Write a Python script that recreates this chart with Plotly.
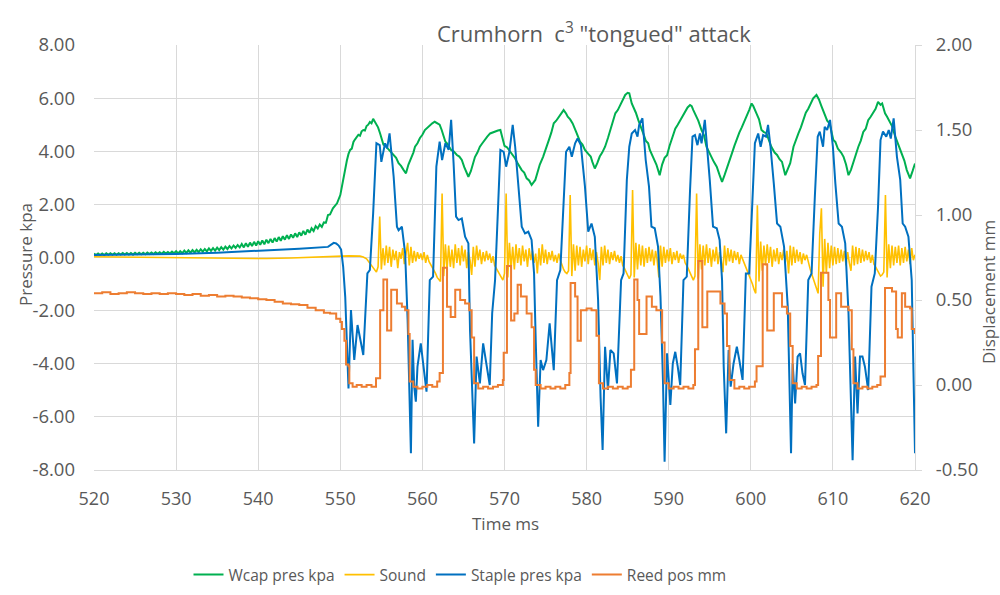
import numpy as np
import plotly.graph_objects as go

# ---------------- data ----------------
# Wcap pressure (kPa): 0.25 ms samples 520.00 .. 547.75
wcap_pre_v = [
    0.15, 0.09, 0.15, 0.09,  0.15, 0.09, 0.16, 0.10,  0.16, 0.10, 0.16, 0.10,
    0.16, 0.11, 0.17, 0.11,  0.17, 0.11, 0.17, 0.11,  0.18, 0.12, 0.18, 0.12,
    0.18, 0.12, 0.19, 0.13,  0.19, 0.13, 0.20, 0.14,  0.20, 0.14, 0.21, 0.15,
    0.21, 0.15, 0.22, 0.16,  0.24, 0.15, 0.24, 0.16,  0.26, 0.17, 0.27, 0.18,
    0.28, 0.19, 0.29, 0.20,  0.31, 0.22, 0.32, 0.23,  0.34, 0.25, 0.35, 0.26,
    0.37, 0.28, 0.39, 0.30,  0.41, 0.32, 0.43, 0.34,  0.45, 0.36, 0.47, 0.38,
    0.51, 0.38, 0.54, 0.40,  0.56, 0.43, 0.59, 0.45,  0.61, 0.48, 0.64, 0.50,
    0.67, 0.54, 0.70, 0.56,  0.73, 0.60, 0.77, 0.63,  0.80, 0.67, 0.84, 0.70,
    0.87, 0.74, 0.91, 0.77,  0.95, 0.82, 1.00, 0.86,  1.05, 0.93, 1.10, 1.00,
    1.18, 1.09, 1.24, 1.15,
]
wcap_t = [
    548.0, 548.25, 548.5, 548.75, 549.1, 549.4, 549.6, 550.0, 550.2, 550.4,
    550.6, 550.8, 551.0, 551.2, 551.4, 551.6, 551.8, 552.0, 552.2, 552.4,
    552.6, 552.8, 553.0, 553.2, 553.4, 553.6, 553.8, 554.0, 554.2, 554.4,
    554.6, 554.85, 555.05, 555.25, 555.5, 555.8, 556.1, 556.3, 556.5, 556.8,
    557.1, 557.4, 557.7, 558.0, 558.3, 558.6, 558.9, 559.1, 559.4, 559.7,
    560.0, 560.3, 560.6, 560.9, 561.2, 561.5, 561.9, 562.1, 562.35, 562.6,
    562.8, 563.0, 563.2, 563.5, 563.8, 564.2, 564.5, 564.8, 565.1, 565.4,
    565.6, 565.9, 566.1, 566.4, 566.7, 567.0, 567.3, 567.6, 567.9, 568.25,
    568.6, 568.85, 569.2, 569.5, 569.8, 570.0, 570.3, 570.7, 571.0, 571.3,
    571.6, 572.1, 572.4, 572.7, 573.0, 573.3, 573.75, 574.0, 574.3, 574.7,
    575.0, 575.4, 575.7, 576.0, 576.3, 576.6, 576.9, 577.2, 577.5, 577.7,
    578.0, 578.3, 578.8, 579.2, 579.5, 579.8, 580.2, 580.5, 580.7, 581.0,
    581.3, 581.6, 581.9, 582.25, 582.6, 582.9, 583.2, 583.5, 583.8, 584.1,
    584.4, 584.7, 585.0, 585.2, 585.5, 585.8, 586.0, 586.3, 586.6, 586.9,
    587.2, 587.5, 587.7, 588.1, 588.5, 588.9, 589.2, 589.5, 589.8, 590.1,
    590.4, 590.8, 591.1, 591.4, 591.7, 592.0, 592.3, 592.6, 592.8, 593.0,
    593.3, 593.6, 594.0, 594.3, 594.6, 594.9, 595.2, 595.5, 595.85, 596.2,
    596.5, 596.8, 597.1, 597.4, 597.7, 598.0, 598.3, 598.6, 598.9, 599.2,
    599.5, 599.8, 600.1, 600.3, 600.7, 601.0, 601.3, 601.6, 601.9, 602.2,
    602.5, 602.9, 603.2, 603.5, 603.8, 604.2, 604.5, 604.8, 605.2, 605.5,
    605.8, 606.1, 606.4, 606.7, 607.0, 607.3, 607.6, 608.0, 608.3, 608.6,
    609.0, 609.3, 609.6, 610.05, 610.3, 610.6, 611.0, 611.3, 611.6, 611.9,
    612.2, 612.5, 612.8, 613.1, 613.4, 613.7, 614.0, 614.3, 614.6, 614.9,
    615.2, 615.5, 615.8, 616.0, 616.35, 616.6, 616.9, 617.2, 617.6, 617.9,
    618.1, 618.4, 618.7, 619.0, 619.2, 619.4, 619.7, 620.0,
]
wcap_v = [
    1.32, 1.31, 1.60, 1.62, 1.85, 1.95, 2.04, 2.35, 2.70, 3.00,
    3.30, 3.65, 3.90, 4.05, 4.10, 4.35, 4.45, 4.55, 4.62, 4.58,
    4.75, 4.80, 4.78, 4.95, 5.00, 5.10, 5.05, 5.22, 5.10, 4.98,
    4.90, 4.67, 4.50, 4.25, 4.20, 4.10, 4.02, 3.95, 3.86, 3.75,
    3.55, 3.45, 3.30, 3.17, 3.50, 3.70, 3.95, 4.17, 4.30, 4.50,
    4.62, 4.80, 4.88, 4.99, 5.05, 5.11, 5.05, 5.00, 4.80, 4.55,
    4.36, 4.30, 4.18, 4.05, 4.00, 3.86, 3.80, 3.67, 3.40, 3.20,
    3.04, 3.25, 3.45, 3.78, 3.95, 4.17, 4.30, 4.45, 4.55, 4.67,
    4.72, 4.75, 4.78, 4.80, 4.38, 4.20, 4.15, 3.98, 3.90, 3.73,
    3.55, 3.29, 3.20, 2.98, 2.90, 2.73, 2.92, 3.20, 3.50, 3.79,
    4.10, 4.42, 4.70, 5.05, 5.15, 5.30, 5.42, 5.55, 5.42, 5.30,
    5.20, 5.05, 4.67, 4.36, 4.25, 4.05, 3.90, 3.80, 3.60, 3.35,
    3.55, 3.80, 3.95, 4.17, 4.50, 4.80, 5.10, 5.43, 5.55, 5.74,
    5.90, 6.12, 6.20, 6.18, 5.80, 5.60, 5.45, 5.17, 4.95, 4.67,
    4.40, 4.30, 4.05, 3.80, 3.50, 3.10, 3.50, 3.75, 3.85, 4.20,
    4.45, 4.85, 5.00, 5.17, 5.30, 5.50, 5.65, 5.74, 5.70, 5.55,
    5.35, 5.15, 4.80, 4.60, 4.17, 4.00, 3.79, 3.60, 3.42, 3.10,
    2.85, 3.10, 3.35, 3.60, 3.92, 4.20, 4.48, 4.70, 4.90, 5.10,
    5.30, 5.55, 5.80, 5.70, 5.42, 5.20, 4.80, 4.72, 4.68, 4.40,
    4.17, 3.95, 3.86, 3.70, 3.60, 3.10, 3.35, 3.55, 4.17, 4.45,
    4.67, 4.90, 5.17, 5.45, 5.60, 5.80, 5.99, 6.12, 5.95, 5.70,
    5.42, 5.15, 5.05, 4.42, 4.35, 4.10, 3.95, 3.79, 3.50, 3.10,
    3.30, 3.60, 3.90, 4.17, 4.40, 4.73, 4.85, 5.17, 5.30, 5.43,
    5.60, 5.86, 5.75, 5.80, 5.43, 5.30, 5.10, 4.95, 4.55, 4.30,
    4.10, 3.92, 3.65, 3.29, 3.15, 2.98, 3.25, 3.54,
]

# Sound (left axis)
sound_pre_t = [520, 523, 526, 529, 532, 535, 538, 541, 544, 547, 549, 551,
               552.4, 552.8, 553.2, 553.6]
sound_pre_v = [0.03, 0.02, 0.00, -0.02, -0.03, -0.04, -0.05, -0.04, -0.02,
               0.02, 0.05, 0.06, 0.05, 0.02, -0.05, -0.22]
# 0.2 ms samples from 554.0 to 620.0
sound_v = [
    -0.40, -0.50, -0.55, -0.35, 1.54, -0.45, 0.35, -0.30, 0.45, -0.20,
    0.40, -0.35, 0.30, -0.10, 0.25, -0.40, 0.20, -0.05, 0.35, -0.25,
    0.15, 0.55, -0.30, 0.40, -0.20, 0.25, -0.15, 0.20, -0.05, 0.15,
    -0.10, 0.20, -0.20, 0.10, -0.15, -0.25, -0.35, -0.45, -0.60, -0.75,
    -0.85, -0.90, 2.41, -0.70, 0.50, -0.45, 0.45, -0.35, 0.30, -0.40,
    0.50, -0.20, 0.35, -0.30, 0.45, -0.15, 0.30, -0.40, 0.20, -0.10,
    -0.66, 0.40, -0.35, 0.45, -0.10, 0.30, -0.25, 0.20, -0.15, 0.25,
    -0.10, 0.15, -0.20, 0.05, -0.30, -0.40, -0.50, -0.60, -0.75, -0.85,
    -0.60, 2.41, -0.75, 0.55, -0.40, 0.40, -0.45, 0.50, -0.20, 0.35,
    -0.30, 0.45, -0.15, 0.30, -0.35, 0.35, -0.10, 0.25, -0.20, 0.15,
    -0.60, 0.35, -0.30, 0.50, -0.20, 0.30, -0.25, 0.20, -0.10, 0.25,
    -0.15, 0.10, -0.20, 0.15, -0.10, -0.30, -0.45, -0.55, -0.60, -0.50,
    2.35, -0.70, 0.50, -0.50, 0.45, -0.30, 0.40, -0.35, 0.30, -0.15,
    0.45, -0.25, 0.35, -0.10, 0.30, -0.30, 0.20, -0.20, -0.85, 0.40,
    -0.30, 0.45, -0.20, 0.30, -0.25, 0.20, -0.10, 0.25, -0.15, 0.10,
    -0.20, 0.05, -0.30, -0.40, -0.55, -0.70, -0.80, -0.65, 2.54, -0.75,
    0.55, -0.45, 0.50, -0.30, 0.45, -0.35, 0.35, -0.20, 0.40, -0.15,
    0.30, -0.30, 0.25, -0.10, -0.75, 0.45, -0.35, 0.40, -0.20, 0.30,
    -0.15, 0.35, -0.25, 0.20, -0.10, 0.25, -0.20, 0.15, -0.05, 0.10,
    -0.20, -0.30, -0.45, -0.60, -0.75, -0.85, -0.70, 2.41, -0.80, 0.50,
    -0.45, 0.45, -0.30, 0.50, -0.20, 0.35, -0.35, 0.30, -0.15, 0.40,
    -0.25, 0.20, -0.10, -0.55, 0.45, -0.30, 0.35, -0.15, 0.30, -0.20,
    0.25, -0.10, 0.20, -0.25, 0.10, -0.05, -0.20, -0.35, -0.50, -0.70,
    -0.85, -1.00, -1.20, -1.35, 1.97, -0.90, 0.60, -0.50, 0.45, -0.30,
    0.50, -0.20, 0.40, -0.35, 0.30, -0.15, 0.35, -0.25, 0.20, -0.10,
    0.30, -0.20, 0.25, -0.60, 0.45, -0.30, 0.40, -0.20, 0.30, -0.15,
    0.20, -0.25, 0.15, -0.10, 0.10, -0.20, -0.40, -0.60, -0.80, -1.00,
    -1.20, -1.35, 0.90, 1.85, -1.10, 0.70, -0.60, 0.55, -0.40, 0.45,
    -0.30, 0.40, -0.25, 0.35, -0.20, 0.30, -0.15, 0.25, -0.30, 0.20,
    -0.20, -0.50, 0.45, -0.30, 0.40, -0.25, 0.35, -0.20, 0.30, -0.15,
    0.25, -0.10, 0.20, -0.20, 0.10, -0.25, -0.35, -0.45, -0.60, -0.70,
    -0.65, -0.55, 2.35, -0.75, 0.50, -0.40, 0.45, -0.30, 0.40, -0.20,
    0.45, -0.30, 0.35, -0.20, 0.40, -0.15, 0.30, -0.25, 0.35, -0.10,
    0.10,
]

# Staple pressure (kPa)
staple_t = [
    520, 525, 530, 535, 540, 545, 548.5, 548.9, 549.2, 549.5,
    549.8, 550.1, 550.35, 550.6, 550.8, 551.0, 551.3, 551.7, 552.1, 552.8,
    553.3, 553.6, 554.0, 554.4, 554.8, 555.0, 555.45, 555.7, 556.0, 556.5,
    556.9, 557.1, 557.5, 557.9, 558.2, 558.4, 558.6, 558.8, 559.0, 559.2,
    559.4, 559.8, 560.2, 560.5, 560.9, 561.3, 561.7, 562.1, 562.4, 562.8,
    563.2, 563.5, 563.8, 564.1, 564.4, 564.8, 565.2, 565.6, 565.8, 566.0,
    566.3, 566.6, 567.0, 567.4, 567.8, 568.2, 568.5, 568.85, 569.25, 569.5,
    569.9, 570.2, 570.6, 571.0, 571.3, 571.7, 572.1, 572.5, 572.9, 573.3,
    573.6, 573.8, 574.1, 574.4, 574.7, 575.1, 575.5, 576.0, 576.4, 576.8,
    577.1, 577.5, 577.9, 578.2, 578.6, 578.9, 579.3, 579.8, 580.2, 580.6,
    581.0, 581.4, 581.7, 581.95, 582.25, 582.6, 582.9, 583.3, 583.7, 584.2,
    584.5, 584.9, 585.2, 585.5, 585.9, 586.2, 586.4, 586.8, 587.2, 587.6,
    587.9, 588.3, 588.7, 589.0, 589.3, 589.5, 589.8, 590.0, 590.2, 590.5,
    590.8, 591.1, 591.4, 591.8, 592.2, 592.6, 592.9, 593.2, 593.5, 593.8,
    594.0, 594.4, 594.7, 595.0, 595.4, 595.85, 596.2, 596.5, 596.7, 597.0,
    597.3, 597.55, 597.9, 598.3, 598.6, 599.0, 599.4, 599.8, 600.2, 600.5,
    600.9, 601.2, 601.5, 601.85, 602.1, 602.4, 602.8, 603.2, 603.6, 604.05,
    604.5, 604.7, 604.9, 605.1, 605.4, 605.7, 606.0, 606.3, 606.6, 607.0,
    607.4, 607.8, 608.15, 608.4, 608.8, 609.0, 609.3, 609.65, 610.0, 610.3,
    610.7, 611.1, 611.5, 611.9, 612.2, 612.4, 612.7, 613.0, 613.3, 613.6,
    613.9, 614.3, 614.7, 615.1, 615.5, 615.8, 616.1, 616.5, 616.8, 617.05,
    617.4, 617.8, 618.2, 618.5, 618.8, 619.2, 619.6, 619.8, 620.0,
]
staple_v = [
    0.09, 0.11, 0.13, 0.18, 0.25, 0.33, 0.40, 0.48, 0.55, 0.53,
    0.45, 0.30, -0.35, -1.48, -3.36, -4.93, -1.98, -3.86, -2.54, -3.67,
    -0.60, -0.47, 1.66, 4.30, 4.23, 3.60, 4.30, 4.11, 4.67, 3.04,
    1.16, 1.03, 1.16, 0.15, -2.35, -5.24, -7.37, -3.10, -4.86, -5.43,
    -4.11, -3.23, -4.24, -5.05, -0.85, -0.72, 3.42, 4.36, 3.67, 4.30,
    4.05, 5.18, 3.54, 1.54, 1.41, 1.47, 0.78, 0.53, -2.73, -4.61,
    -7.00, -3.73, -4.74, -3.23, -4.11, -4.80, -2.10, -0.85, 2.16, 4.05,
    3.98, 3.42, 3.98, 4.99, 4.17, 2.54, 1.16, 0.91, 0.97, 0.66,
    -0.60, -3.10, -6.37, -3.86, -4.24, -3.86, -2.48, -4.24, -0.85, -0.47,
    1.66, 3.98, 4.17, 3.79, 4.30, 4.48, 4.23, 2.67, 0.97, 1.28,
    0.78, -1.60, -5.24, -7.25, -3.36, -4.99, -3.48, -3.61, -4.74, -0.85,
    -0.60, 2.92, 4.17, 4.67, 4.80, 4.55, 4.99, 5.24, 3.67, 2.67,
    1.16, 1.10, 0.41, -1.48, -4.61, -7.69, -3.61, -4.61, -5.55, -3.99,
    -3.55, -4.11, -4.80, -0.85, -0.72, 2.54, 4.55, 4.61, 4.23, 4.67,
    4.30, 5.18, 4.17, 2.92, 1.16, 1.10, 0.66, -0.85, -4.11, -6.62,
    -3.48, -4.86, -3.99, -3.36, -3.86, -4.61, -0.60, -0.60, 2.16, 4.30,
    4.67, 4.17, 4.61, 4.55, 4.99, 4.17, 2.79, 1.28, 1.16, 0.41,
    -1.85, -4.61, -7.37, -3.99, -5.49, -3.73, -3.61, -4.36, -4.80, -0.85,
    -0.60, 2.29, 4.55, 4.74, 4.17, 4.92, 4.80, 5.18, 4.17, 2.79,
    1.28, 1.16, 0.53, -2.10, -5.24, -7.63, -3.73, -5.87, -3.73, -3.73,
    -4.11, -4.99, -1.10, -0.60, 1.91, 4.42, 4.74, 4.55, 4.80, 4.48,
    5.24, 3.79, 2.92, 1.28, 1.16, 0.78, -0.85, -3.99, -7.37,
]

# Reed position (mm, right axis), step changes
reed_t = [
    520, 521, 522, 523, 524, 525, 526, 527, 528, 529,
    530, 531, 532, 533, 534, 535, 536, 537, 538, 539,
    540, 541, 542, 543, 544, 545, 546, 547, 548, 548.75,
    549.5, 550.0, 550.2, 550.5, 550.7, 551.0, 551.1, 551.5, 552.0, 552.6,
    553.2, 553.8, 554.35, 554.85, 555.25, 555.7, 556.2, 556.9, 557.5, 557.9,
    558.3, 558.45, 558.9, 559.4, 560.0, 560.6, 561.2, 561.8, 562.1, 562.5,
    563.0, 563.45, 564.0, 564.6, 565.2, 565.7, 566.0, 566.3, 566.8, 567.4,
    568.0, 568.6, 569.2, 569.8, 569.9, 570.3, 570.8, 571.2, 571.6, 572.0,
    572.7, 573.3, 573.6, 573.8, 574.4, 575.0, 575.6, 576.2, 576.8, 577.4,
    577.9, 578.05, 578.6, 578.9, 579.3, 580.0, 580.6, 581.2, 581.5, 582.0,
    582.6, 583.2, 583.8, 584.4, 585.0, 585.4, 585.8, 586.2, 586.4, 587.3,
    587.95, 588.5, 589.2, 589.5, 590.0, 590.6, 591.2, 591.8, 592.4, 593.0,
    593.2, 593.6, 594.1, 594.7, 596.3, 596.8, 597.1, 597.4, 598.0, 598.6,
    599.2, 599.8, 600.5, 600.7, 601.45, 602.0, 602.8, 603.8, 604.4, 604.8,
    605.1, 605.6, 606.2, 606.8, 607.4, 608.0, 608.2, 608.55, 609.45, 609.65,
    610.4, 611.0, 611.9, 612.3, 612.5, 613.0, 613.6, 614.2, 614.8, 615.4,
    615.8, 616.35, 617.2, 617.7, 617.9, 618.4, 618.8, 619.4, 619.6, 620.0,
]
reed_v = [
    0.540, 0.545, 0.535, 0.540, 0.545, 0.540, 0.535, 0.540, 0.535, 0.540,
    0.535, 0.530, 0.535, 0.525, 0.530, 0.520, 0.525, 0.520, 0.515, 0.510,
    0.505, 0.500, 0.490, 0.480, 0.475, 0.470, 0.455, 0.440, 0.425, 0.420,
    0.390, 0.370, 0.330, 0.260, 0.120, 0.110, 0.010, -0.010, 0.000, -0.010,
    0.000, -0.010, 0.040, 0.440, 0.620, 0.320, 0.560, 0.480, 0.460, 0.440,
    0.300, 0.020, -0.010, -0.020, -0.010, 0.000, -0.010, 0.020, 0.070, 0.690,
    0.460, 0.400, 0.560, 0.500, 0.480, 0.440, 0.280, 0.010, -0.020, -0.010,
    -0.020, -0.010, 0.000, 0.030, 0.190, 0.700, 0.380, 0.420, 0.590, 0.520,
    0.420, 0.340, 0.090, 0.000, -0.020, -0.010, -0.020, -0.010, -0.020, 0.000,
    0.070, 0.600, 0.520, 0.260, 0.440, 0.450, 0.440, 0.290, 0.010, -0.020,
    -0.010, -0.020, -0.010, -0.020, -0.010, 0.090, 0.620, 0.500, 0.300, 0.520,
    0.460, 0.440, 0.250, 0.010, -0.020, -0.010, -0.020, -0.010, -0.020, 0.000,
    0.210, 0.730, 0.340, 0.550, 0.480, 0.420, 0.230, 0.030, -0.020, -0.010,
    -0.020, -0.010, 0.020, 0.110, 0.710, 0.320, 0.540, 0.460, 0.420, 0.230,
    0.010, -0.020, -0.010, -0.020, -0.010, 0.000, 0.170, 0.660, 0.500, 0.280,
    0.540, 0.460, 0.440, 0.210, 0.010, -0.020, -0.010, -0.020, -0.010, 0.000,
    0.050, 0.570, 0.550, 0.330, 0.280, 0.540, 0.460, 0.450, 0.330, 0.300,
]

x_ticks = [520, 530, 540, 550, 560, 570, 580, 590, 600, 610, 620]
y_ticks = [-8, -6, -4, -2, 0, 2, 4, 6, 8]
y_ticktext = ["-8.00", "-6.00", "-4.00", "-2.00", "0.00", "2.00", "4.00", "6.00", "8.00"]
y2_ticks = [-0.5, 0, 0.5, 1, 1.5, 2]
y2_ticktext = ["-0.50", "0.00", "0.50", "1.00", "1.50", "2.00"]

# ---------------- assemble sample times ----------------
wcap_x = list(np.round(np.arange(len(wcap_pre_v)) * 0.25 + 520.0, 3)) + wcap_t
wcap_y = wcap_pre_v + wcap_v
sound_x = sound_pre_t + list(np.round(np.arange(len(sound_v)) * 0.2 + 554.0, 3))
sound_y = sound_pre_v + sound_v

FONT = "Open Sans"
GREY = "#595959"
GRID = "#d9d9d9"

fig = go.Figure()
fig.add_trace(go.Scatter(x=wcap_x, y=wcap_y, name="Wcap pres kpa", mode="lines",
                         line=dict(color="#00B050", width=2)))
fig.add_trace(go.Scatter(x=sound_x, y=sound_y, name="Sound", mode="lines",
                         line=dict(color="#FFC000", width=1.6)))
fig.add_trace(go.Scatter(x=staple_t, y=staple_v, name="Staple pres kpa", mode="lines",
                         line=dict(color="#0070C0", width=2)))
fig.add_trace(go.Scatter(x=reed_t, y=reed_v, name="Reed pos mm", mode="lines", yaxis="y2",
                         line=dict(color="#ED7D31", width=2, shape="hv")))

L, R, T, B = 94, 85, 45, 125
W, H = 1000, 595
pw, ph = W - L - R, H - T - B

def px(xp):
    return (xp - L) / pw

def py(yp):
    return (H - B - yp) / ph

fig.update_layout(
    width=W, height=H,
    margin=dict(l=L, r=R, t=T, b=B, pad=0, autoexpand=False),
    paper_bgcolor="white", plot_bgcolor="white",
    font=dict(family=FONT, color=GREY, size=16),
    showlegend=True,
    legend=dict(orientation="h", x=px(460), xanchor="center", y=py(575), yanchor="middle",
                font=dict(size=15.5, color=GREY), bgcolor="rgba(0,0,0,0)",
                itemwidth=30, tracegroupgap=0),
    xaxis=dict(range=[520, 620], tickvals=x_ticks, showgrid=True, gridcolor=GRID, gridwidth=1,
               zeroline=False, showline=True, linecolor=GRID, linewidth=1, ticks="",
               tickfont=dict(size=18, color=GREY), ticklabelstandoff=12, automargin=False),
    yaxis=dict(range=[-8, 8], tickvals=y_ticks, ticktext=y_ticktext, showgrid=True,
               gridcolor=GRID, gridwidth=1, zeroline=False, showline=False, ticks="",
               tickfont=dict(size=18.5, color=GREY), ticklabelstandoff=18, automargin=False),
    yaxis2=dict(overlaying="y", side="right", range=[-0.5, 2], tickvals=y2_ticks,
                ticktext=y2_ticktext, showgrid=False, zeroline=False, showline=True,
                linecolor=GRID, linewidth=1, ticks="outside", ticklen=6, tickcolor=GRID,
                tickfont=dict(size=18.5, color=GREY), ticklabelstandoff=10, automargin=False),
    annotations=[
        dict(text="Crumhorn\u00a0\u00a0c<sup>3</sup> \"tongued\" attack", x=px(594), y=py(33),
             xref="paper", yref="paper", showarrow=False, xanchor="center", yanchor="middle",
             font=dict(size=22, color=GREY, family=FONT)),
        dict(text="Time ms", x=px(505), y=py(523), xref="paper", yref="paper",
             showarrow=False, xanchor="center", yanchor="middle",
             font=dict(size=17, color=GREY, family=FONT)),
        dict(text="Pressure kpa", x=px(25), y=py(255), xref="paper", yref="paper",
             showarrow=False, xanchor="center", yanchor="middle", textangle=-90,
             font=dict(size=17, color=GREY, family=FONT)),
        dict(text="Displacement mm", x=px(988), y=py(292), xref="paper", yref="paper",
             showarrow=False, xanchor="center", yanchor="middle", textangle=-90,
             font=dict(size=17, color=GREY, family=FONT)),
    ],
)

fig.write_html("out.html", config={"displayModeBar": False},
               post_script="document.body.style.margin='0';document.body.style.overflow='hidden';")
